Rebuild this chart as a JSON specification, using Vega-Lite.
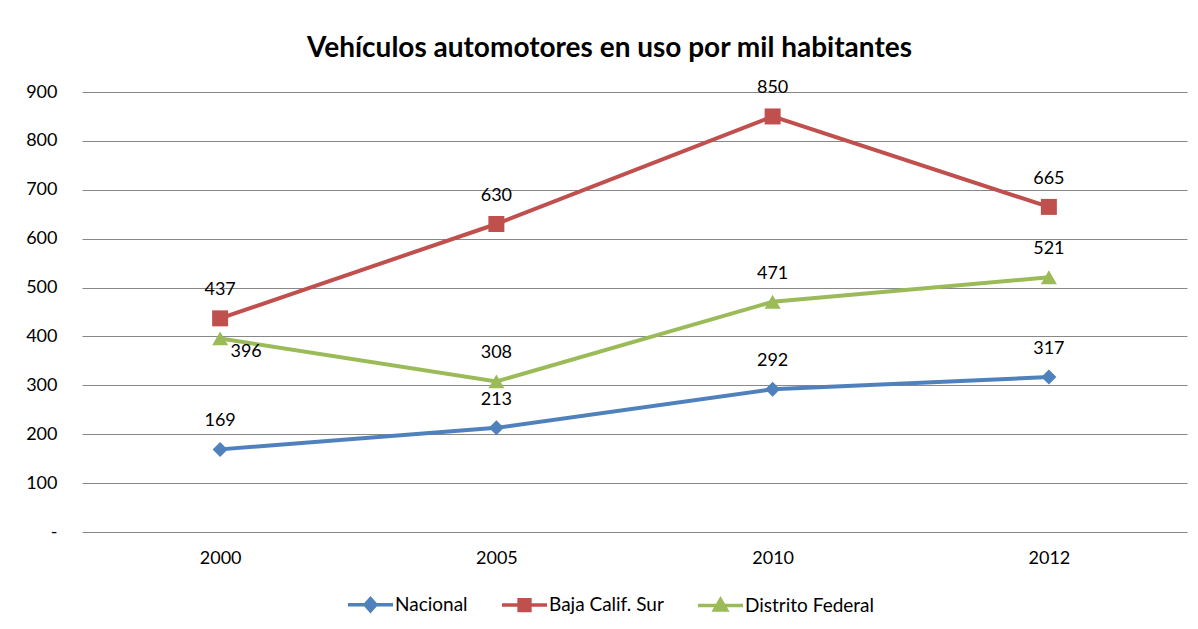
{
  "$schema": "https://vega.github.io/schema/vega-lite/v6.json",
  "width": 1105,
  "height": 440,
  "autosize": {"type": "none"},
  "padding": {"left": 82, "top": 92, "right": 11, "bottom": 97},
  "background": "white",
  "title": {
    "text": "Vehículos automotores en uso por mil habitantes",
    "font": "Lato",
    "fontSize": 28,
    "fontWeight": "bold",
    "color": "#000000",
    "anchor": "middle",
    "dx": -25,
    "offset": 16
  },
  "data": {
    "values": [
      {"year": "2000", "series": "Nacional", "value": 169},
      {"year": "2005", "series": "Nacional", "value": 213},
      {"year": "2010", "series": "Nacional", "value": 292},
      {"year": "2012", "series": "Nacional", "value": 317},
      {"year": "2000", "series": "Baja Calif. Sur", "value": 437},
      {"year": "2005", "series": "Baja Calif. Sur", "value": 630},
      {"year": "2010", "series": "Baja Calif. Sur", "value": 850},
      {"year": "2012", "series": "Baja Calif. Sur", "value": 665},
      {"year": "2000", "series": "Distrito Federal", "value": 396},
      {"year": "2005", "series": "Distrito Federal", "value": 308},
      {"year": "2010", "series": "Distrito Federal", "value": 471},
      {"year": "2012", "series": "Distrito Federal", "value": 521}
    ]
  },
  "encoding": {
    "x": {
      "field": "year",
      "type": "ordinal",
      "scale": {"type": "point", "padding": 0.5},
      "axis": {
        "title": null,
        "labelAngle": 0,
        "ticks": false,
        "domain": false,
        "labelPadding": 17,
        "labelFont": "Lato",
        "labelFontSize": 18,
        "labelColor": "#000000",
        "grid": false
      }
    },
    "y": {
      "field": "value",
      "type": "quantitative",
      "scale": {"domain": [0, 900], "nice": false},
      "axis": {
        "title": null,
        "values": [0, 100, 200, 300, 400, 500, 600, 700, 800, 900],
        "labelExpr": "datum.value === 0 ? '-\u2007' : datum.label",
        "format": "d",
        "ticks": false,
        "domain": false,
        "labelPadding": 25,
        "labelFont": "Lato",
        "labelFontSize": 18,
        "labelColor": "#000000",
        "grid": true,
        "gridColor": "#888888",
        "gridWidth": 1.2
      }
    },
    "color": {
      "field": "series",
      "type": "nominal",
      "scale": {
        "domain": ["Nacional", "Baja Calif. Sur", "Distrito Federal"],
        "range": ["#4F81BD", "#C0504D", "#9BBB59"]
      },
      "legend": {
        "title": null,
        "orient": "none",
        "direction": "horizontal",
        "legendX": 264,
        "legendY": 488,
        "symbolSize": 2025,
        "symbolStrokeWidth": 3.5,
        "labelFont": "Lato",
        "labelFontSize": 19,
        "labelColor": "#000000",
        "labelOffset": 0,
        "columnPadding": 27,
        "encode": {
          "symbols": {
            "update": {
              "shape": {"signal": "datum.value === 'Nacional' ? 'M-1,0L1,0M-0.24,0L0,-0.27L0.24,0L0,0.27Z' : datum.value === 'Baja Calif. Sur' ? 'M-1,0L1,0M-0.24,-0.24L0.24,-0.24L0.24,0.24L-0.24,0.24Z' : 'M-1,0L1,0M-0.27,0.2L0,-0.27L0.27,0.2Z'"},
              "fill": {"signal": "scale('color', datum.value)"},
              "fillOpacity": {"value": 1},
              "stroke": {"signal": "scale('color', datum.value)"},
              "strokeWidth": {"value": 3.5}
            }
          }
        }
      }
    }
  },
  "layer": [
    {
      "mark": {"type": "line", "strokeWidth": 4}
    },
    {
      "transform": [{"filter": "datum.series === 'Nacional'"}],
      "mark": {"type": "point", "filled": true, "opacity": 1, "size": 225, "shape": "diamond"}
    },
    {
      "transform": [{"filter": "datum.series === 'Baja Calif. Sur'"}],
      "mark": {"type": "point", "filled": true, "opacity": 1, "size": 256, "shape": "square"}
    },
    {
      "transform": [{"filter": "datum.series === 'Distrito Federal'"}],
      "mark": {"type": "point", "filled": true, "opacity": 1, "size": 256, "shape": "triangle-up"}
    },
    {
      "transform": [{"filter": "!(datum.series === 'Distrito Federal' && datum.year === '2000')"}],
      "mark": {"type": "text", "dy": -28, "font": "Lato", "fontSize": 18, "baseline": "middle", "align": "center"},
      "encoding": {
        "text": {"field": "value", "type": "quantitative"},
        "color": {"value": "#000000"}
      }
    },
    {
      "transform": [{"filter": "datum.series === 'Distrito Federal' && datum.year === '2000'"}],
      "mark": {"type": "text", "dx": 26, "dy": 14, "font": "Lato", "fontSize": 18, "baseline": "middle", "align": "center"},
      "encoding": {
        "text": {"field": "value", "type": "quantitative"},
        "color": {"value": "#000000"}
      }
    }
  ],
  "config": {
    "view": {"stroke": null}
  }
}
